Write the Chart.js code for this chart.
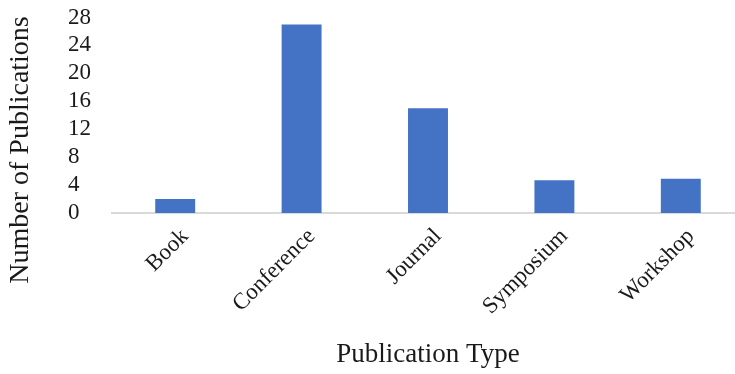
<!DOCTYPE html>
<html>
<head>
<meta charset="utf-8">
<script src="https://cdn.jsdelivr.net/npm/chart.js@4/dist/chart.umd.min.js"></script>
<style>
  html, body { margin: 0; padding: 0; background: #ffffff; overflow: hidden; }
  #wrap { width: 750px; height: 374px; }
</style>
</head>
<body>
<div id="wrap"><canvas id="chart" width="750" height="374"></canvas></div>
<script>
// Publication counts by type
const categories = ['Book', 'Conference', 'Journal', 'Symposium', 'Workshop'];
const publications = [2, 27, 15, 4.7, 4.9];
const yTicks = [0, 4, 8, 12, 16, 20, 24, 28];

const xTitle = 'Publication Type';
const yTitle = 'Number of Publications';

const serif = "'Liberation Serif', 'Times New Roman', serif";
const textColor = '#1a1a1a';

// Vertical axis title, drawn in the left margin beside the value labels
const yTitlePlugin = {
  id: 'yTitle',
  afterDraw(chart) {
    const ctx = chart.ctx;
    ctx.save();
    ctx.translate(21, 150);
    ctx.rotate(-Math.PI / 2);
    ctx.font = '28px ' + serif;
    ctx.fillStyle = textColor;
    ctx.textAlign = 'center';
    ctx.textBaseline = 'middle';
    ctx.fillText(yTitle, 0, 0);
    ctx.restore();
  }
};

new Chart(document.getElementById('chart'), {
  type: 'bar',
  data: {
    labels: categories,
    datasets: [{
      data: publications,
      backgroundColor: '#4472C4',
      borderWidth: 0,
      categoryPercentage: 1,
      barPercentage: 0.316
    }]
  },
  options: {
    responsive: false,
    animation: false,
    layout: { padding: { top: 17.5, right: 6, bottom: 0, left: 68 } },
    plugins: { legend: { display: false }, tooltip: { enabled: false } },
    scales: {
      x: {
        grid: { display: false, drawTicks: false },
        border: { display: true, color: '#d9d9d9', width: 2 },
        ticks: {
          color: textColor,
          font: { family: serif, size: 23 },
          minRotation: 45,
          maxRotation: 45,
          padding: 10,
          labelOffset: 10
        },
        title: {
          display: true,
          text: xTitle,
          color: textColor,
          font: { family: serif, size: 27 },
          padding: { top: 4, bottom: 3 }
        },
        afterFit(scale) { scale.height = 161; }
      },
      y: {
        min: 0,
        max: 28,
        grid: { display: false, drawTicks: false },
        border: { display: false },
        afterBuildTicks(scale) { scale.ticks = yTicks.map(v => ({ value: v })); },
        ticks: {
          color: textColor,
          font: { family: serif, size: 23 },
          autoSkip: false,
          crossAlign: 'far',
          padding: 8
        },
        afterFit(scale) {
          scale.width = 44;
          scale.paddingTop = 0;
          scale.paddingBottom = 0;
        }
      }
    }
  },
  plugins: [yTitlePlugin]
});
</script>
</body>
</html>
